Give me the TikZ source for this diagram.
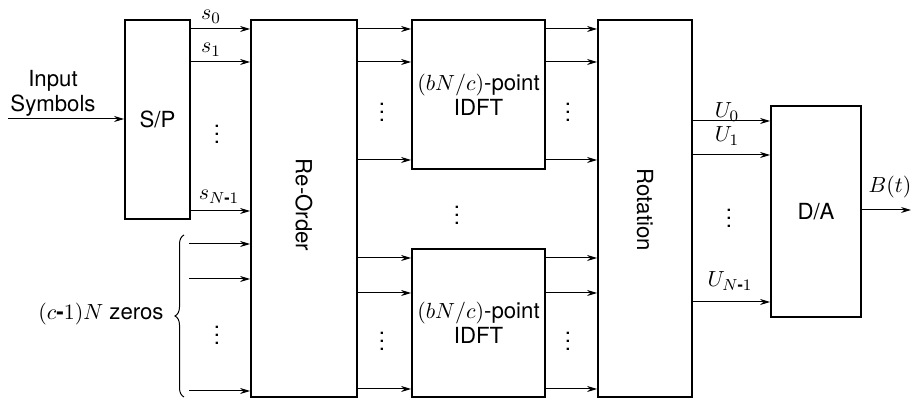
\documentclass[tikz,border=0pt]{standalone}
\usepackage{fontspec}
\setmainfont{TeX Gyre Heros}
\usetikzlibrary{arrows.meta,decorations.pathreplacing}
\newcommand{\hy}{\mbox{\bfseries -}}
\newcommand{\shy}{\mbox{\fontsize{8}{9}\selectfont\bfseries -}}
\begin{document}
\begin{tikzpicture}[x=0.5pt,y=-0.5pt,
  font=\fontsize{11.1}{12.4}\selectfont,
  blk/.style={draw,line width=0.9pt,inner sep=0pt},
  arr/.style={line width=0.5pt,-{Stealth[length=5pt,width=3pt]}},
  lbl/.style={inner sep=0pt,anchor=base},
  dts/.style={inner sep=0pt}]
\useasboundingbox (0,0) rectangle (912,399);
% blocks
\node[blk,minimum width=32.5pt,minimum height=99.5pt] (sp) at (157.5,119.5) {S/P};
\node[blk,minimum width=53pt,minimum height=188.5pt] (ro) at (304,208.5) {};
\node[rotate=-90,inner sep=0pt] (rotxt) at (304,205) {Re-Order};
\node[blk,minimum width=66.5pt,minimum height=74.5pt,align=center] (id1) at (478.5,94.5) {$(bN/c)$-point\\IDFT};
\node[blk,minimum width=66.5pt,minimum height=74pt,align=center] (id2) at (478.5,323) {$(bN/c)$-point\\IDFT};
\node[blk,minimum width=47pt,minimum height=188.5pt] (rot) at (645,208.5) {};
\node[rotate=-90,inner sep=0pt] (rottxt) at (645,210) {Rotation};
\node[blk,minimum width=45pt,minimum height=105.5pt] (da) at (816,211.5) {D/A};
% input
\coordinate (in) at (8,119);
\node[inner sep=0pt,anchor=south,align=center] (intxt) at (53,117) {Input\\Symbols};
\draw[arr] (in) -- (sp.west |- in);
% S/P outputs
\foreach \y in {29,62,211}{
  \draw[arr] (sp.east |- 0,\y) -- (ro.west |- 0,\y);
}
\node[lbl] (s0) at (211,20) {$s_0$};
\node[lbl] (s1) at (211,53) {$s_1$};
\node[lbl] (sn) at (219,200) {$s_{N\shy1}$};
\node[dts] (d1) at (217,128) {$\vdots$};
% zeros
\foreach \y/\n in {244/za,279/zb,391/zc}{
  \coordinate (\n) at (189,\y);
  \draw[arr] (\n) -- (ro.west |- \n);
}
\node[dts] (d2) at (217,329) {$\vdots$};
\coordinate (bb) at (184,397);
\coordinate (bt) at (184,235);
\draw[line width=0.5pt,decorate,decoration={brace,amplitude=4.5pt}] (bb) -- (bt);
\node[inner sep=0pt,anchor=base east] (zt) at (164,320) {$(c$\hy$1)N$ zeros};
% reorder -> IDFT -> rotation
\foreach \y in {29,62,160}{
  \draw[arr] (ro.east |- 0,\y) -- (id1.west |- 0,\y);
  \draw[arr] (id1.east |- 0,\y) -- (rot.west |- 0,\y);
}
\foreach \y in {258,293,389}{
  \draw[arr] (ro.east |- 0,\y) -- (id2.west |- 0,\y);
  \draw[arr] (id2.east |- 0,\y) -- (rot.west |- 0,\y);
}
\node[dts] (d3) at (382,106) {$\vdots$};
\node[dts] (d4) at (568,106) {$\vdots$};
\node[dts] (d5) at (382,335) {$\vdots$};
\node[dts] (d6) at (568,335) {$\vdots$};
\node[dts] (d7) at (457,209) {$\vdots$};
% rotation -> D/A
\foreach \y in {121,155,302}{
  \draw[arr] (rot.east |- 0,\y) -- (da.west |- 0,\y);
}
\node[lbl] (u0) at (727,118) {$U_0$};
\node[lbl] (u1) at (727,142) {$U_1$};
\node[lbl] (un) at (730,287) {$U_{N\shy1}$};
\node[dts] (d8) at (729,212) {$\vdots$};
% output
\coordinate (out) at (911,210);
\draw[arr] (da.east |- out) -- (out);
\node[lbl] (btl) at (890,193) {$B(t)$};
\end{tikzpicture}
\end{document}
